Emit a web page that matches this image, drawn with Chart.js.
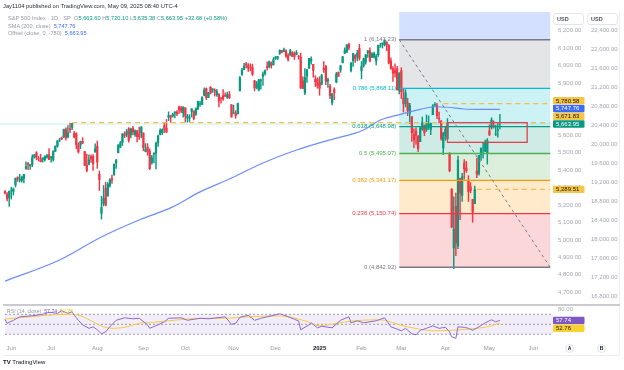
<!DOCTYPE html>
<html>
<head>
<meta charset="utf-8">
<title>S&amp;P 500 Index - 1D - SP</title>
<script src="https://cdn.jsdelivr.net/npm/chart.js@4.4.1/dist/chart.umd.min.js"></script>
<style>
  body { margin: 0; background: #fff; width: 624px; height: 370px; overflow: hidden; position: relative;
         font-family: "Liberation Sans", Arial, sans-serif; }
  canvas { position: absolute; left: 0; }
  #main { top: 12px; }
  #rsi { top: 306px; }
  .t { position: absolute; white-space: nowrap; }
  .sep { position: absolute; left: 3px; width: 617px; top: 304px; height: 2px; background: #c9cbd1; }
  .frame { position: absolute; left: 3px; top: 12px; width: 617px; height: 344px; border-right: 1px solid #eceef2;
           border-bottom: 1px solid #eceef2; box-sizing: border-box; }
  .usd { position: absolute; top: 13px; height: 12px; border: 1px solid #e3e5ea; border-radius: 3px; font-size: 5.5px;
         color: #50535e; font-weight: bold; line-height: 10px; padding-left: 3px; box-sizing: border-box; }
  .btn { position: absolute; top: 344px; width: 9px; height: 9px; border-radius: 50%; border: 1px solid #dfe1e6;
         font-size: 5px; line-height: 7px; text-align: center; box-sizing: border-box; color: #131722; font-weight: bold; }
</style>
</head>
<body>
<canvas id="main" width="624" height="293"></canvas>
<canvas id="rsi" width="624" height="50"></canvas>
<div class="frame"></div>
<div class="sep"></div>
<div class="usd" style="left:553px;width:31px">USD</div>
<div class="usd" style="left:587px;width:31px">USD</div>
<div class="btn" style="left:565px">A</div>
<div class="btn" style="left:597px">B</div>
<script>
// daily candles, May 29 2024 .. May 8 2025
const dates = [
  '2024-05-29','2024-05-30','2024-05-31',
  '2024-06-03','2024-06-04','2024-06-05','2024-06-06','2024-06-07','2024-06-10','2024-06-11','2024-06-12','2024-06-13','2024-06-14',
  '2024-06-17','2024-06-18','2024-06-20','2024-06-21','2024-06-24','2024-06-25','2024-06-26','2024-06-27','2024-06-28',
  '2024-07-01','2024-07-02','2024-07-03','2024-07-05','2024-07-08','2024-07-09','2024-07-10','2024-07-11','2024-07-12','2024-07-15',
  '2024-07-16','2024-07-17','2024-07-18','2024-07-19','2024-07-22','2024-07-23','2024-07-24','2024-07-25','2024-07-26','2024-07-29',
  '2024-07-30','2024-07-31',
  '2024-08-01','2024-08-02','2024-08-05','2024-08-06','2024-08-07','2024-08-08','2024-08-09','2024-08-12','2024-08-13','2024-08-14',
  '2024-08-15','2024-08-16','2024-08-19','2024-08-20','2024-08-21','2024-08-22','2024-08-23','2024-08-26','2024-08-27','2024-08-28',
  '2024-08-29','2024-08-30',
  '2024-09-03','2024-09-04','2024-09-05','2024-09-06','2024-09-09','2024-09-10','2024-09-11','2024-09-12','2024-09-13','2024-09-16',
  '2024-09-17','2024-09-18','2024-09-19','2024-09-20','2024-09-23','2024-09-24','2024-09-25','2024-09-26','2024-09-27','2024-09-30',
  '2024-10-01','2024-10-02','2024-10-03','2024-10-04','2024-10-07','2024-10-08','2024-10-09','2024-10-10','2024-10-11','2024-10-14',
  '2024-10-15','2024-10-16','2024-10-17','2024-10-18','2024-10-21','2024-10-22','2024-10-23','2024-10-24','2024-10-25','2024-10-28',
  '2024-10-29','2024-10-30','2024-10-31',
  '2024-11-01','2024-11-04','2024-11-05','2024-11-06','2024-11-07','2024-11-08','2024-11-11','2024-11-12','2024-11-13','2024-11-14',
  '2024-11-15','2024-11-18','2024-11-19','2024-11-20','2024-11-21','2024-11-22','2024-11-25','2024-11-26','2024-11-27','2024-11-29',
  '2024-12-02','2024-12-03','2024-12-04','2024-12-05','2024-12-06','2024-12-09','2024-12-10','2024-12-11','2024-12-12','2024-12-13',
  '2024-12-16','2024-12-17','2024-12-18','2024-12-19','2024-12-20','2024-12-23','2024-12-24','2024-12-26','2024-12-27','2024-12-30',
  '2024-12-31',
  '2025-01-02','2025-01-03','2025-01-06','2025-01-07','2025-01-08','2025-01-10','2025-01-13','2025-01-14','2025-01-15','2025-01-16',
  '2025-01-17','2025-01-21','2025-01-22','2025-01-23','2025-01-24','2025-01-27','2025-01-28','2025-01-29','2025-01-30','2025-01-31',
  '2025-02-03','2025-02-04','2025-02-05','2025-02-06','2025-02-07','2025-02-10','2025-02-11','2025-02-12','2025-02-13','2025-02-14',
  '2025-02-18','2025-02-19','2025-02-20','2025-02-21','2025-02-24','2025-02-25','2025-02-26','2025-02-27','2025-02-28',
  '2025-03-03','2025-03-04','2025-03-05','2025-03-06','2025-03-07','2025-03-10','2025-03-11','2025-03-12','2025-03-13','2025-03-14',
  '2025-03-17','2025-03-18','2025-03-19','2025-03-20','2025-03-21','2025-03-24','2025-03-25','2025-03-26','2025-03-27','2025-03-28',
  '2025-03-31',
  '2025-04-01','2025-04-02','2025-04-03','2025-04-04','2025-04-07','2025-04-08','2025-04-09','2025-04-10','2025-04-11','2025-04-14',
  '2025-04-15','2025-04-16','2025-04-17','2025-04-21','2025-04-22','2025-04-23','2025-04-24','2025-04-25','2025-04-28','2025-04-29',
  '2025-04-30',
  '2025-05-01','2025-05-02','2025-05-05','2025-05-06','2025-05-07','2025-05-08'
];

const opens = [
  5278, 5260, 5243,
  5283, 5278, 5315, 5357, 5343, 5341, 5353, 5409, 5441, 5424, 5432, 5477, 5500, 5466, 5459, 5461, 5460, 5473, 5488,
  5471, 5461, 5507, 5537, 5572, 5584, 5591, 5635, 5590, 5638, 5644, 5610, 5608, 5543, 5545, 5565, 5505, 5429, 5433, 5477, 5479, 5505,
  5537, 5376, 5152, 5207, 5294, 5252, 5311, 5352, 5375, 5440, 5500, 5531, 5558, 5602, 5603, 5637, 5602, 5639, 5602, 5624, 5607, 5613,
  5612, 5507, 5531, 5507, 5443, 5491, 5496, 5558, 5604, 5615, 5655, 5641, 5703, 5709, 5711, 5727, 5733, 5762, 5756, 5727,
  5757, 5698, 5698, 5737, 5738, 5719, 5751, 5778, 5775, 5829, 5866, 5816, 5875, 5860, 5857, 5832, 5835, 5810, 5826, 5829, 5816, 5833, 5775,
  5724, 5725, 5722, 5854, 5947, 5976, 6009, 6000, 5986, 5990, 5912, 5874, 5860, 5914, 5937, 5952, 5993, 5992, 6014, 6003,
  6040, 6042, 6069, 6085, 6081, 6083, 6057, 6060, 6074, 6068, 6063, 6052, 6047, 5912, 5842, 5940, 5984, 6025, 6006, 5920, 5920,
  5903, 5892, 5983, 5993, 5910, 5881, 5786, 5861, 5905, 5959, 5973, 6015, 6069, 6076, 6121, 5970, 6027, 6057, 6051, 6097,
  5969, 5998, 6020, 6072, 6083, 6047, 6050, 6025, 6061, 6115, 6121, 6117, 6134, 6115, 6026, 5982, 5970, 5981, 5856,
  5969, 5812, 5781, 5786, 5726, 5706, 5603, 5624, 5595, 5563, 5635, 5655, 5632, 5646, 5632, 5718, 5775, 5771, 5696, 5679, 5527,
  5598, 5580, 5492, 5292, 4954, 5193, 4966, 5353, 5255, 5441, 5412, 5335, 5305, 5232, 5207, 5395, 5381, 5489, 5529, 5508, 5499,
  5625, 5646, 5655, 5606, 5627, 5663.60
];

const highs = [
  5283, 5271, 5281,
  5302, 5298, 5354, 5362, 5376, 5365, 5376, 5448, 5441, 5432, 5488, 5490, 5506, 5478, 5490, 5472, 5483, 5491, 5524,
  5479, 5510, 5539, 5570, 5583, 5590, 5635, 5642, 5655, 5670, 5667, 5622, 5614, 5557, 5566, 5586, 5508, 5492, 5488, 5487, 5489, 5551,
  5567, 5395, 5250, 5312, 5331, 5328, 5351, 5371, 5435, 5461, 5546, 5564, 5609, 5620, 5633, 5643, 5641, 5651, 5631, 5628, 5646, 5648,
  5614, 5552, 5552, 5522, 5484, 5501, 5560, 5600, 5636, 5637, 5671, 5690, 5734, 5715, 5725, 5735, 5741, 5767, 5765, 5763,
  5757, 5720, 5718, 5753, 5739, 5757, 5796, 5796, 5822, 5871, 5871, 5846, 5879, 5867, 5866, 5863, 5839, 5817, 5862, 5843, 5847, 5851, 5776,
  5772, 5741, 5784, 5937, 5983, 6012, 6018, 6010, 6009, 6007, 5915, 5908, 5920, 5921, 5963, 5974, 6021, 6025, 6020, 6045,
  6053, 6052, 6089, 6086, 6099, 6089, 6068, 6092, 6079, 6078, 6085, 6058, 6071, 5935, 5982, 5978, 6040, 6049, 6006, 5941, 5929,
  5935, 5949, 6022, 6001, 5927, 5891, 5840, 5872, 5960, 5963, 6001, 6052, 6101, 6118, 6128, 6018, 6070, 6062, 6087, 6121,
  6022, 6042, 6062, 6084, 6101, 6073, 6076, 6063, 6116, 6127, 6129, 6147, 6135, 6119, 6043, 5993, 6009, 5994, 5959,
  5987, 5866, 5861, 5812, 5783, 5706, 5636, 5642, 5598, 5645, 5704, 5659, 5716, 5711, 5670, 5775, 5787, 5783, 5732, 5685, 5616,
  5651, 5695, 5500, 5292, 5247, 5268, 5481, 5353, 5381, 5460, 5450, 5368, 5328, 5233, 5309, 5469, 5485, 5528, 5553, 5572, 5581,
  5659, 5700, 5683, 5658, 5668, 5720.10
];

const lows = [
  5263, 5223, 5192,
  5234, 5257, 5303, 5335, 5331, 5331, 5327, 5404, 5403, 5404, 5420, 5468, 5459, 5452, 5447, 5446, 5451, 5469, 5460,
  5446, 5451, 5507, 5531, 5562, 5574, 5586, 5571, 5584, 5614, 5632, 5584, 5522, 5497, 5523, 5551, 5426, 5390, 5430, 5444, 5398, 5501,
  5410, 5283, 5119, 5194, 5195, 5250, 5302, 5324, 5370, 5410, 5499, 5528, 5541, 5586, 5591, 5560, 5585, 5602, 5593, 5561, 5576, 5585,
  5511, 5505, 5485, 5403, 5434, 5441, 5407, 5536, 5601, 5604, 5615, 5615, 5683, 5674, 5704, 5699, 5712, 5725, 5729, 5703,
  5676, 5674, 5678, 5704, 5687, 5713, 5746, 5765, 5775, 5825, 5804, 5815, 5836, 5845, 5824, 5822, 5762, 5784, 5799, 5823, 5811, 5811, 5703,
  5723, 5697, 5722, 5854, 5943, 5976, 5986, 5966, 5969, 5942, 5854, 5866, 5854, 5864, 5885, 5944, 5973, 5986, 5984, 6003,
  6034, 6033, 6062, 6071, 6079, 6045, 6024, 6057, 6051, 6034, 6060, 6036, 5867, 5866, 5832, 5902, 5982, 6007, 5932, 5879, 5869,
  5829, 5888, 5960, 5890, 5874, 5810, 5773, 5803, 5900, 5938, 5960, 6014, 6068, 6075, 6089, 5963, 5994, 6017, 6026, 6030,
  5923, 5990, 6007, 6046, 6020, 6044, 6042, 6003, 6051, 6103, 6099, 6111, 6084, 6009, 5977, 5908, 5933, 5858, 5837,
  5810, 5733, 5762, 5712, 5667, 5565, 5529, 5547, 5505, 5563, 5628, 5597, 5622, 5633, 5603, 5718, 5764, 5694, 5670, 5572, 5489,
  5571, 5578, 5390, 5069, 4835, 4910, 4950, 5116, 5220, 5348, 5386, 5220, 5270, 5101, 5207, 5356, 5371, 5455, 5468, 5505, 5434,
  5597, 5635, 5640, 5598, 5588, 5635.38
];

const closes = [
  5267, 5235, 5278,
  5283, 5291, 5354, 5352, 5347, 5360, 5375, 5421, 5433, 5431, 5473, 5487, 5473, 5465, 5448, 5469, 5478, 5483, 5460,
  5475, 5509, 5537, 5567, 5572, 5577, 5633, 5585, 5615, 5631, 5667, 5589, 5545, 5505, 5564, 5555, 5427, 5399, 5459, 5464, 5436, 5522,
  5446, 5346, 5186, 5240, 5199, 5319, 5344, 5344, 5434, 5455, 5543, 5554, 5608, 5597, 5621, 5571, 5635, 5617, 5626, 5592, 5592, 5648,
  5529, 5520, 5503, 5408, 5471, 5496, 5554, 5596, 5627, 5633, 5635, 5618, 5713, 5703, 5719, 5732, 5722, 5745, 5738, 5762,
  5709, 5709, 5700, 5751, 5696, 5751, 5792, 5780, 5815, 5859, 5815, 5843, 5841, 5865, 5853, 5851, 5797, 5809, 5808, 5823, 5833, 5813, 5705,
  5729, 5712, 5782, 5929, 5973, 5996, 6001, 5984, 5985, 5949, 5871, 5894, 5917, 5917, 5949, 5969, 5987, 6021, 5999, 6032,
  6047, 6050, 6087, 6075, 6090, 6053, 6034, 6085, 6051, 6051, 6074, 6051, 5872, 5867, 5931, 5974, 6040, 6037, 5971, 5907, 5882,
  5869, 5942, 5975, 5909, 5918, 5827, 5836, 5843, 5950, 5937, 5997, 6049, 6086, 6119, 6101, 6012, 6068, 6039, 6071, 6041,
  5994, 6038, 6061, 6084, 6026, 6066, 6068, 6052, 6115, 6115, 6129, 6144, 6117, 6013, 5983, 5955, 5956, 5861, 5955,
  5849, 5779, 5843, 5739, 5770, 5615, 5573, 5599, 5522, 5639, 5675, 5615, 5675, 5663, 5668, 5768, 5777, 5712, 5693, 5581, 5612,
  5633, 5671, 5397, 5074, 5062, 4982, 5457, 5268, 5363, 5406, 5397, 5276, 5283, 5158, 5288, 5376, 5485, 5525, 5529, 5561, 5569,
  5604, 5687, 5650, 5607, 5631.27, 5663.95
];

// indicator lines (bar = position in dates)
const smaBars   = [0, 26, 45, 53, 64, 80, 93, 107, 123, 139, 155, 171, 179, 189, 198, 205, 211, 219, 227, 236];
const smaValues = [4764, 4885, 5011, 5057, 5114, 5189, 5275, 5349, 5441, 5515, 5573, 5630, 5687, 5721, 5748, 5763, 5760, 5750, 5748, 5747.76];

const rsiBars = [0, 1, 4, 7, 13, 18, 21, 25, 27, 30, 32, 33, 35, 37, 40, 42, 44, 46, 48, 50, 53, 57, 61, 64, 68, 69, 73, 76, 78,
  84, 87, 90, 93, 97, 105, 108, 110, 112, 116, 119, 122, 128, 131, 134, 138, 140, 141, 145, 146, 149, 151, 156, 160, 164, 165,
  168, 171, 177, 181, 184, 186, 189, 191, 194, 196, 198, 201, 204, 207, 210, 212, 213, 215, 216, 219, 221, 223, 226, 229, 232, 234, 236];
const rsiValues = [60, 52, 58, 65, 67, 70, 74, 72, 77, 72, 75, 68, 58, 49, 42, 45, 39, 31, 35, 45, 58, 63, 61, 62, 49, 42, 49, 55, 62,
  63, 58, 60, 62, 61, 65, 50, 52, 64, 68, 58, 62, 68, 71, 67, 60, 57, 39, 49, 53, 43, 46, 43, 58, 65, 53,
  57, 53, 57, 63, 45, 42, 37, 42, 31, 29, 38, 42, 47, 42, 44, 35, 25, 22, 45, 44, 42, 38, 45, 53, 59, 55, 57.74];

const rsiMaBars   = [0, 7, 17, 30, 36, 42, 47, 52, 58, 64, 71, 77, 87, 93, 105, 116, 131, 143, 150, 158, 166, 177, 181, 189, 198, 205, 213, 220, 227, 232, 236];
const rsiMaValues = [60.6, 63, 67, 70, 67, 55, 45, 42, 45, 52, 54, 56.6, 60.6, 62, 62, 65, 66.7, 57, 47, 52, 56.7, 59, 58, 48, 40, 37, 38, 40, 43, 47, 52.76];

// Fibonacci retracement drawn from the Feb high to the Apr low
const fibLevels = [0, 0.236, 0.382, 0.5, 0.618, 0.786, 1];
const fibPrices = [4842.92, 5150.74, 5341.17, 5495.07, 5648.98, 5868.11, 6147.23];
const fibBars = [188, 260];

// horizontal dashed levels, and the box
const levelPrices = [5671.83, 5780.58, 5289.51];
const levelStartBars = [32, 209, 225];
const boxBars = [211, 249];
const boxPrices = [5559, 5672];

// axis ticks
const priceTicks = [4700, 4800, 4900, 5000, 5100, 5200, 5300, 5400, 5500, 5600, 5700, 5800, 5900, 6000, 6100, 6200];
const secondTicks = [16800, 17200, 17600, 18000, 18400, 18800, 19200, 19600, 20000, 20400, 20800, 21200, 21600, 22000, 22400];
const rsiTicks = [80];
const monthBars = [3, 22, 44, 66, 86, 109, 129, 150, 170, 189, 210, 231, 252];
const monthLabels = ['Jun', 'Jul', 'Aug', 'Sep', 'Oct', 'Nov', 'Dec', '2025', 'Feb', 'Mar', 'Apr', 'May', 'Jun'];

// ---- styles ----
const UP = '#089981', DOWN = '#f23645';
const fibLineColors = ['#787b86', '#f23645', '#ff9800', '#4caf50', '#089981', '#00bcd4', '#787b86'];
const fibFills = ['rgba(242,54,69,0.2)', 'rgba(255,152,0,0.2)', 'rgba(76,175,80,0.2)', 'rgba(8,153,129,0.2)',
                  'rgba(0,188,212,0.2)', 'rgba(120,123,134,0.2)'];
const fibTopFill = 'rgba(41,98,255,0.2)';
const LEVEL = '#f5bd45';
const GREY_TXT = '#9598a1';
const FONT = '"Liberation Sans", Arial, sans-serif';

Chart.defaults.font.family = FONT;

const fmt = v => v.toLocaleString('en-US', { minimumFractionDigits: 2, maximumFractionDigits: 2 });
const last = closes.length - 1;
const xMin = -2.39, xMax = 261.32;

const candleColors = closes.map((c, i) => c >= opens[i] ? UP : DOWN);
const wicks = dates.map((d, i) => ({ x: i, y: [lows[i], highs[i]] }));
const bodies = dates.map((d, i) => ({ x: i, y: [opens[i], closes[i]] }));

function noPad(width) {
  return function (s) {
    if (width) s.width = width;
    s.paddingTop = 0; s.paddingBottom = 0; s.paddingLeft = 0; s.paddingRight = 0;
  };
}

function drawTags(ctx, scale, tags, upward) {
  const h = 7.8, left = 553, w = 31.5;
  const items = tags.map(t => Object.assign({}, t, { y: scale.getPixelForValue(t.v) }));
  if (upward) {
    items.sort((a, b) => b.y - a.y);
    for (let i = 1; i < items.length; i++) items[i].y = Math.min(items[i].y, items[i - 1].y - h);
  } else {
    items.sort((a, b) => a.y - b.y);
    for (let i = 1; i < items.length; i++) items[i].y = Math.max(items[i].y, items[i - 1].y + h);
  }
  ctx.save();
  ctx.font = '6px ' + FONT;
  ctx.textBaseline = 'middle';
  items.forEach(t => {
    ctx.fillStyle = t.bg;
    ctx.beginPath();
    ctx.roundRect(left, t.y - h / 2 + 0.2, w, h - 0.4, 1.2);
    ctx.fill();
    ctx.fillStyle = t.fg;
    ctx.fillText(fmt(t.v), left + 3, t.y + 0.4);
  });
  ctx.restore();
}

const drawingsPlugin = {
  id: 'drawings',
  beforeDatasetsDraw(chart) {
    const { ctx, chartArea: a, scales: { x, y } } = chart;
    const x0 = x.getPixelForValue(fibBars[0]), x1 = x.getPixelForValue(fibBars[1]);
    ctx.save();
    // faint line of the offset close
    ctx.strokeStyle = 'rgba(0,188,212,0.16)';
    ctx.lineWidth = 1.5;
    ctx.beginPath();
    ctx.moveTo(a.left, y.getPixelForValue(closes[last]));
    ctx.lineTo(a.right, y.getPixelForValue(closes[last]));
    ctx.stroke();
    // fib zones
    ctx.fillStyle = fibTopFill;
    ctx.fillRect(x0, a.top, x1 - x0, y.getPixelForValue(fibPrices[fibPrices.length - 1]) - a.top);
    for (let i = 0; i < fibPrices.length - 1; i++) {
      const yt = y.getPixelForValue(fibPrices[i + 1]), yb = y.getPixelForValue(fibPrices[i]);
      ctx.fillStyle = fibFills[i];
      ctx.fillRect(x0, yt, x1 - x0, yb - yt);
    }
    ctx.restore();
  },
  afterDatasetsDraw(chart) {
    const { ctx, scales: { x, y } } = chart;
    const x0 = x.getPixelForValue(fibBars[0]), x1 = x.getPixelForValue(fibBars[1]);
    ctx.save();
    // fib level lines and labels
    ctx.font = '6px ' + FONT;
    ctx.textAlign = 'right';
    ctx.textBaseline = 'middle';
    fibPrices.forEach((p, i) => {
      const yy = y.getPixelForValue(p);
      ctx.strokeStyle = fibLineColors[i];
      ctx.lineWidth = 1.4;
      ctx.beginPath(); ctx.moveTo(x0, yy); ctx.lineTo(x1, yy); ctx.stroke();
      ctx.fillStyle = fibLineColors[i];
      ctx.fillText(fibLevels[i] + ' (' + fmt(p) + ')', x0 - 3, yy);
    });
    // trend line of the fib
    ctx.setLineDash([3, 3]);
    ctx.strokeStyle = '#787b86';
    ctx.lineWidth = 1;
    ctx.beginPath();
    ctx.moveTo(x0, y.getPixelForValue(fibPrices[fibPrices.length - 1]));
    ctx.lineTo(x1, y.getPixelForValue(fibPrices[0]));
    ctx.stroke();
    // dashed horizontal levels
    ctx.setLineDash([5, 4]);
    ctx.strokeStyle = LEVEL;
    ctx.lineWidth = 1.2;
    levelPrices.forEach((p, i) => {
      const yy = y.getPixelForValue(p);
      ctx.beginPath(); ctx.moveTo(x.getPixelForValue(levelStartBars[i]), yy); ctx.lineTo(x1, yy); ctx.stroke();
    });
    // box
    ctx.setLineDash([]);
    ctx.strokeStyle = '#e0434f';
    ctx.lineWidth = 1.3;
    const bx0 = x.getPixelForValue(boxBars[0]), bx1 = x.getPixelForValue(boxBars[1]);
    const by0 = y.getPixelForValue(boxPrices[1]), by1 = y.getPixelForValue(boxPrices[0]);
    ctx.strokeRect(bx0, by0, bx1 - bx0, by1 - by0);
    ctx.restore();
  },
  afterDraw(chart) {
    const tags = levelPrices.map(v => ({ v, bg: '#f7c548', fg: '#131722' }));
    tags.push({ v: smaValues[smaValues.length - 1], bg: '#3b6cf6', fg: '#fff' });
    tags.push({ v: closes[last], bg: UP, fg: '#fff' });
    drawTags(chart.ctx, chart.scales.y, tags, true);
  }
};

new Chart(document.getElementById('main'), {
  type: 'bar',
  data: {
    datasets: [
      { type: 'line', data: smaBars.map((b, i) => ({ x: b, y: smaValues[i] })), borderColor: '#6d8ef6', borderWidth: 1.2,
        pointRadius: 0, cubicInterpolationMode: 'monotone', order: 0 },
      { data: bodies, backgroundColor: candleColors, barThickness: 1.6, grouped: false, order: 1 },
      { data: wicks, backgroundColor: candleColors, barThickness: 0.8, grouped: false, order: 2 }
    ]
  },
  options: {
    responsive: false, animation: false, events: [],
    layout: { padding: 0 },
    plugins: { legend: { display: false }, tooltip: { enabled: false } },
    scales: {
      x: { type: 'linear', display: false, offset: false, min: xMin, max: xMax },
      y: {
        position: 'right', weight: 0, min: 4626.9, max: 6306,
        grid: { display: false, drawTicks: false }, border: { display: false },
        afterBuildTicks: s => { s.ticks = priceTicks.map(v => ({ value: v })); },
        afterFit: noPad(35),
        ticks: { padding: 5, color: '#a3a6af', font: { size: 6 }, callback: v => fmt(v) }
      },
      y2: {
        position: 'right', weight: 1, min: 16610.5, max: 22778.9,
        grid: { display: false, drawTicks: false }, border: { display: false },
        afterBuildTicks: s => { s.ticks = secondTicks.map(v => ({ value: v })); },
        afterFit: noPad(36),
        ticks: { padding: 3, color: '#a3a6af', font: { size: 6 }, callback: v => fmt(v) }
      }
    }
  },
  plugins: [drawingsPlugin]
});

const rsiPlugin = {
  id: 'rsiBand',
  beforeDatasetsDraw(chart) {
    const { ctx, chartArea: a, scales: { y } } = chart;
    const y70 = y.getPixelForValue(70), y50 = y.getPixelForValue(50), y30 = y.getPixelForValue(30);
    ctx.save();
    ctx.fillStyle = 'rgba(126,87,194,0.1)';
    ctx.fillRect(a.left + 5, y70, a.right - a.left - 5, y30 - y70);
    ctx.setLineDash([2, 2]);
    ctx.strokeStyle = 'rgba(120,123,134,0.75)';
    ctx.lineWidth = 1;
    [y70, y50, y30].forEach(yy => {
      ctx.beginPath(); ctx.moveTo(a.left + 5, yy); ctx.lineTo(a.right, yy); ctx.stroke();
    });
    ctx.restore();
  },
  afterDraw(chart) {
    drawTags(chart.ctx, chart.scales.y, [
      { v: rsiValues[rsiValues.length - 1], bg: '#7e57c2', fg: '#fff' },
      { v: rsiMaValues[rsiMaValues.length - 1], bg: '#f9d230', fg: '#131722' }
    ], false);
  }
};

new Chart(document.getElementById('rsi'), {
  type: 'line',
  data: {
    datasets: [
      { data: rsiBars.map((b, i) => ({ x: b, y: rsiValues[i] })), borderColor: '#8b68d0', borderWidth: 1, pointRadius: 0 },
      { data: rsiMaBars.map((b, i) => ({ x: b, y: rsiMaValues[i] })), borderColor: '#f7c948', borderWidth: 1,
        pointRadius: 0, cubicInterpolationMode: 'monotone' }
    ]
  },
  options: {
    responsive: false, animation: false, events: [],
    layout: { padding: 0 },
    plugins: { legend: { display: false }, tooltip: { enabled: false } },
    scales: {
      x: {
        type: 'linear', min: xMin, max: xMax, offset: false,
        grid: { display: false, drawTicks: false }, border: { display: false },
        afterBuildTicks: s => { s.ticks = monthBars.map(v => ({ value: v })); },
        afterFit: function (s) { s.height = 15; s.paddingLeft = 0; s.paddingRight = 0; },
        ticks: {
          autoSkip: false, maxRotation: 0, minRotation: 0, padding: 4,
          callback: (v, i) => monthLabels[i],
          color: c => monthLabels[c.index] === '2025' ? '#131722' : GREY_TXT,
          font: c => ({ size: 6, weight: monthLabels[c.index] === '2025' ? 'bold' : 'normal' })
        }
      },
      y: {
        position: 'right', min: 16.6, max: 86.6,
        grid: { display: false, drawTicks: false }, border: { display: false },
        afterBuildTicks: s => { s.ticks = rsiTicks.map(v => ({ value: v })); },
        afterFit: noPad(71),
        ticks: { padding: 5, color: '#a3a6af', font: { size: 6 }, callback: v => fmt(v) }
      }
    }
  },
  plugins: [rsiPlugin]
});

// ---- texts ----
function addText(x, cy, size, parts) {
  const d = document.createElement('div');
  d.className = 't';
  d.style.left = x + 'px';
  d.style.top = (cy - size * 0.6) + 'px';
  d.style.fontSize = size + 'px';
  d.style.lineHeight = (size * 1.2) + 'px';
  d.innerHTML = parts.map(p => '<span style="color:' + p[1] + ';font-weight:' + (p[2] || 400) + '">' + p[0] + '</span>').join('');
  document.body.appendChild(d);
}

const change = closes[last] - closes[last - 1];
const pct = change / closes[last - 1] * 100;
addText(3, 6, 5.8, [['Jay1104 published on TradingView.com, May 09, 2025 08:40 UTC-4', '#2a2e39']]);
addText(8, 18.3, 5.7, [
  ['S&amp;P 500 Index · 1D · SP&nbsp;&nbsp;O', GREY_TXT], [fmt(opens[last]), UP],
  [' H', GREY_TXT], [fmt(highs[last]), UP],
  [' L', GREY_TXT], [fmt(lows[last]), UP],
  [' C', GREY_TXT], [fmt(closes[last]), UP],
  [' +' + fmt(change) + ' (+' + fmt(pct) + '%)', UP]
]);
addText(8, 26, 5.6, [['SMA (200, close)&nbsp;&nbsp;', GREY_TXT], [fmt(smaValues[smaValues.length - 1]), '#3b6cf6']]);
addText(8, 33.3, 5.6, [['Offset (close, 0, -780)&nbsp;&nbsp;', GREY_TXT], [fmt(closes[last]), '#3b6cf6']]);
addText(7, 311.5, 5.2, [['RSI (14, close)&nbsp;&nbsp;', GREY_TXT], [fmt(rsiValues[rsiValues.length - 1]), '#7e57c2'],
  ['&nbsp;&nbsp;' + fmt(rsiMaValues[rsiMaValues.length - 1]), '#f0b800']]);
addText(3, 362.5, 6, [['TV', '#131722', 900], ['&nbsp;TradingView', '#131722']]);
</script>
</body>
</html>
